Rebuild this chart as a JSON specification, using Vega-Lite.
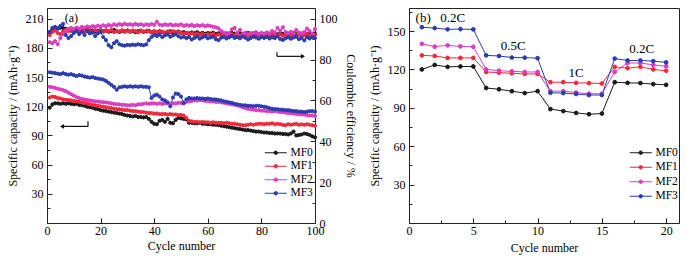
{
  "$schema": "https://vega.github.io/schema/vega-lite/v6.json",
  "padding": {"left": 5, "top": 5, "right": 5, "bottom": 5},
  "spacing": 94,
  "bounds": "flush",
  "config": {
    "font": "Liberation Serif",
    "view": {"stroke": "#222", "strokeWidth": 1},
    "axis": {"labelFont": "Liberation Serif", "titleFont": "Liberation Serif", "labelFontSize": 12, "titleFontSize": 12, "titleFontWeight": "normal", "labelColor": "#000", "titleColor": "#000", "domainColor": "#222", "tickColor": "#222", "grid": false, "labelFlush": false, "labelOverlap": false},
    "legend": {"labelFont": "Liberation Serif", "labelFontSize": 11.5, "labelColor": "#000"},
    "text": {"font": "Liberation Serif", "fontSize": 13}
  },
  "datasets": {
    "a": [
{"c":1,"s":"MF0","cap":118.5,"ce":93.5},{"c":2,"s":"MF0","cap":122,"ce":94.8},{"c":3,"s":"MF0","cap":123,"ce":95.8},{"c":4,"s":"MF0","cap":123,"ce":95.2},{"c":5,"s":"MF0","cap":122.5,"ce":95.6},{"c":6,"s":"MF0","cap":123,"ce":95.4},{"c":7,"s":"MF0","cap":122.5,"ce":95.0},{"c":8,"s":"MF0","cap":123,"ce":94.6},{"c":9,"s":"MF0","cap":122.5,"ce":94.2},{"c":10,"s":"MF0","cap":122,"ce":94.8},
{"c":11,"s":"MF0","cap":122.5,"ce":94.0},{"c":12,"s":"MF0","cap":121.5,"ce":94.5},{"c":13,"s":"MF0","cap":121,"ce":93.8},{"c":14,"s":"MF0","cap":120.5,"ce":94.2},{"c":15,"s":"MF0","cap":119.5,"ce":94.6},{"c":16,"s":"MF0","cap":119,"ce":93.9},{"c":17,"s":"MF0","cap":118.5,"ce":94.3},{"c":18,"s":"MF0","cap":117.5,"ce":93.7},{"c":19,"s":"MF0","cap":117,"ce":94.1},{"c":20,"s":"MF0","cap":116,"ce":94.4},
{"c":21,"s":"MF0","cap":115.5,"ce":93.8},{"c":22,"s":"MF0","cap":115,"ce":94.2},{"c":23,"s":"MF0","cap":114.5,"ce":93.6},{"c":24,"s":"MF0","cap":114,"ce":94.0},{"c":25,"s":"MF0","cap":113.5,"ce":94.5},{"c":26,"s":"MF0","cap":113,"ce":93.9},{"c":27,"s":"MF0","cap":112.5,"ce":93.5},{"c":28,"s":"MF0","cap":112,"ce":94.1},{"c":29,"s":"MF0","cap":111,"ce":93.8},{"c":30,"s":"MF0","cap":110.5,"ce":94.3},
{"c":31,"s":"MF0","cap":110,"ce":93.7},{"c":32,"s":"MF0","cap":109.5,"ce":94.0},{"c":33,"s":"MF0","cap":110,"ce":93.4},{"c":34,"s":"MF0","cap":109,"ce":93.9},{"c":35,"s":"MF0","cap":109,"ce":94.2},{"c":36,"s":"MF0","cap":108.5,"ce":93.6},{"c":37,"s":"MF0","cap":109,"ce":93.8},{"c":38,"s":"MF0","cap":107,"ce":94.1},{"c":39,"s":"MF0","cap":104,"ce":93.3},{"c":40,"s":"MF0","cap":102,"ce":93.7},
{"c":41,"s":"MF0","cap":101.5,"ce":93.2},{"c":42,"s":"MF0","cap":105,"ce":93.8},{"c":43,"s":"MF0","cap":106,"ce":93.5},{"c":44,"s":"MF0","cap":104,"ce":93.0},{"c":45,"s":"MF0","cap":107,"ce":93.6},{"c":46,"s":"MF0","cap":103,"ce":93.9},{"c":47,"s":"MF0","cap":102.5,"ce":93.1},{"c":48,"s":"MF0","cap":106,"ce":93.4},{"c":49,"s":"MF0","cap":108,"ce":93.7},{"c":50,"s":"MF0","cap":107.5,"ce":93.2},
{"c":51,"s":"MF0","cap":107,"ce":93.5},{"c":52,"s":"MF0","cap":106.5,"ce":93.0},{"c":53,"s":"MF0","cap":103,"ce":92.8},{"c":54,"s":"MF0","cap":103,"ce":93.3},{"c":55,"s":"MF0","cap":102.5,"ce":92.9},{"c":56,"s":"MF0","cap":102.5,"ce":93.4},{"c":57,"s":"MF0","cap":103,"ce":92.7},{"c":58,"s":"MF0","cap":102,"ce":93.1},{"c":59,"s":"MF0","cap":102,"ce":92.6},{"c":60,"s":"MF0","cap":101.5,"ce":93.0},
{"c":61,"s":"MF0","cap":101.5,"ce":92.8},{"c":62,"s":"MF0","cap":101,"ce":93.2},{"c":63,"s":"MF0","cap":101,"ce":92.5},{"c":64,"s":"MF0","cap":100.5,"ce":92.9},{"c":65,"s":"MF0","cap":100,"ce":93.1},{"c":66,"s":"MF0","cap":99.5,"ce":92.6},{"c":67,"s":"MF0","cap":99,"ce":92.8},{"c":68,"s":"MF0","cap":98.5,"ce":92.4},{"c":69,"s":"MF0","cap":98,"ce":93.0},{"c":70,"s":"MF0","cap":97.5,"ce":92.7},
{"c":71,"s":"MF0","cap":97,"ce":92.5},{"c":72,"s":"MF0","cap":96.5,"ce":92.9},{"c":73,"s":"MF0","cap":96,"ce":92.3},{"c":74,"s":"MF0","cap":95.5,"ce":92.7},{"c":75,"s":"MF0","cap":95.5,"ce":93.0},{"c":76,"s":"MF0","cap":95,"ce":92.4},{"c":77,"s":"MF0","cap":94.5,"ce":92.8},{"c":78,"s":"MF0","cap":94,"ce":92.6},{"c":79,"s":"MF0","cap":94,"ce":92.2},{"c":80,"s":"MF0","cap":93.5,"ce":92.7},
{"c":81,"s":"MF0","cap":93,"ce":92.5},{"c":82,"s":"MF0","cap":93,"ce":92.9},{"c":83,"s":"MF0","cap":92.5,"ce":92.3},{"c":84,"s":"MF0","cap":92.5,"ce":92.6},{"c":85,"s":"MF0","cap":92,"ce":93.0},{"c":86,"s":"MF0","cap":92,"ce":92.4},{"c":87,"s":"MF0","cap":92,"ce":92.8},{"c":88,"s":"MF0","cap":91.5,"ce":92.5},{"c":89,"s":"MF0","cap":91.5,"ce":92.9},{"c":90,"s":"MF0","cap":91,"ce":92.3},
{"c":91,"s":"MF0","cap":92,"ce":92.7},{"c":92,"s":"MF0","cap":94,"ce":93.1},{"c":93,"s":"MF0","cap":90,"ce":92.4},{"c":94,"s":"MF0","cap":90.5,"ce":92.8},{"c":95,"s":"MF0","cap":91,"ce":92.6},{"c":96,"s":"MF0","cap":92,"ce":93.0},{"c":97,"s":"MF0","cap":91.5,"ce":92.5},{"c":98,"s":"MF0","cap":90.5,"ce":92.9},{"c":99,"s":"MF0","cap":89,"ce":92.3},{"c":100,"s":"MF0","cap":88,"ce":92.7},
{"c":1,"s":"MF1","cap":129,"ce":92.0},{"c":2,"s":"MF1","cap":130,"ce":93.5},{"c":3,"s":"MF1","cap":129.5,"ce":94.2},{"c":4,"s":"MF1","cap":128.5,"ce":93.0},{"c":5,"s":"MF1","cap":128,"ce":92.5},{"c":6,"s":"MF1","cap":127,"ce":93.8},{"c":7,"s":"MF1","cap":126.5,"ce":94.5},{"c":8,"s":"MF1","cap":126.5,"ce":93.9},{"c":9,"s":"MF1","cap":126,"ce":94.3},{"c":10,"s":"MF1","cap":125.5,"ce":93.6},
{"c":11,"s":"MF1","cap":125,"ce":94.1},{"c":12,"s":"MF1","cap":124.5,"ce":93.7},{"c":13,"s":"MF1","cap":124,"ce":94.4},{"c":14,"s":"MF1","cap":123.5,"ce":93.8},{"c":15,"s":"MF1","cap":123,"ce":94.2},{"c":16,"s":"MF1","cap":122,"ce":93.5},{"c":17,"s":"MF1","cap":121.5,"ce":94.0},{"c":18,"s":"MF1","cap":121,"ce":94.3},{"c":19,"s":"MF1","cap":120.5,"ce":93.7},{"c":20,"s":"MF1","cap":120,"ce":94.1},
{"c":21,"s":"MF1","cap":119.5,"ce":93.6},{"c":22,"s":"MF1","cap":119,"ce":94.2},{"c":23,"s":"MF1","cap":118.5,"ce":93.9},{"c":24,"s":"MF1","cap":118,"ce":94.4},{"c":25,"s":"MF1","cap":117.5,"ce":93.5},{"c":26,"s":"MF1","cap":117,"ce":94.0},{"c":27,"s":"MF1","cap":117,"ce":93.8},{"c":28,"s":"MF1","cap":116.5,"ce":94.3},{"c":29,"s":"MF1","cap":116,"ce":93.6},{"c":30,"s":"MF1","cap":116,"ce":94.1},
{"c":31,"s":"MF1","cap":115.5,"ce":93.7},{"c":32,"s":"MF1","cap":115,"ce":94.2},{"c":33,"s":"MF1","cap":115,"ce":93.9},{"c":34,"s":"MF1","cap":114.5,"ce":93.4},{"c":35,"s":"MF1","cap":114,"ce":94.0},{"c":36,"s":"MF1","cap":114,"ce":93.6},{"c":37,"s":"MF1","cap":113.5,"ce":94.1},{"c":38,"s":"MF1","cap":113,"ce":93.8},{"c":39,"s":"MF1","cap":113,"ce":93.3},{"c":40,"s":"MF1","cap":112.5,"ce":93.9},
{"c":41,"s":"MF1","cap":112.5,"ce":93.5},{"c":42,"s":"MF1","cap":112,"ce":94.0},{"c":43,"s":"MF1","cap":112,"ce":93.6},{"c":44,"s":"MF1","cap":112,"ce":93.2},{"c":45,"s":"MF1","cap":111.5,"ce":93.8},{"c":46,"s":"MF1","cap":112,"ce":93.4},{"c":47,"s":"MF1","cap":111.5,"ce":93.9},{"c":48,"s":"MF1","cap":111.5,"ce":93.3},{"c":49,"s":"MF1","cap":111,"ce":93.7},{"c":50,"s":"MF1","cap":111,"ce":93.0},
{"c":51,"s":"MF1","cap":110.5,"ce":92.8},{"c":52,"s":"MF1","cap":108,"ce":93.2},{"c":53,"s":"MF1","cap":105,"ce":92.5},{"c":54,"s":"MF1","cap":104.5,"ce":92.9},{"c":55,"s":"MF1","cap":104,"ce":92.3},{"c":56,"s":"MF1","cap":104,"ce":92.7},{"c":57,"s":"MF1","cap":103.5,"ce":92.1},{"c":58,"s":"MF1","cap":104,"ce":92.6},{"c":59,"s":"MF1","cap":103.5,"ce":92.0},{"c":60,"s":"MF1","cap":103.5,"ce":92.4},
{"c":61,"s":"MF1","cap":103,"ce":92.2},{"c":62,"s":"MF1","cap":103.5,"ce":92.7},{"c":63,"s":"MF1","cap":103,"ce":91.8},{"c":64,"s":"MF1","cap":103,"ce":92.3},{"c":65,"s":"MF1","cap":103,"ce":91.9},{"c":66,"s":"MF1","cap":102.5,"ce":92.5},{"c":67,"s":"MF1","cap":103,"ce":91.7},{"c":68,"s":"MF1","cap":102.5,"ce":92.1},{"c":69,"s":"MF1","cap":102,"ce":92.4},{"c":70,"s":"MF1","cap":102,"ce":91.8},
{"c":71,"s":"MF1","cap":101.5,"ce":92.2},{"c":72,"s":"MF1","cap":101,"ce":91.6},{"c":73,"s":"MF1","cap":100.5,"ce":92.0},{"c":74,"s":"MF1","cap":100.5,"ce":92.4},{"c":75,"s":"MF1","cap":101,"ce":91.7},{"c":76,"s":"MF1","cap":101.5,"ce":92.1},{"c":77,"s":"MF1","cap":101,"ce":91.5},{"c":78,"s":"MF1","cap":101.5,"ce":91.9},{"c":79,"s":"MF1","cap":102,"ce":92.3},{"c":80,"s":"MF1","cap":102,"ce":91.6},
{"c":81,"s":"MF1","cap":101.5,"ce":92.0},{"c":82,"s":"MF1","cap":102,"ce":92.4},{"c":83,"s":"MF1","cap":102,"ce":91.8},{"c":84,"s":"MF1","cap":102.5,"ce":92.2},{"c":85,"s":"MF1","cap":101.5,"ce":91.5},{"c":86,"s":"MF1","cap":102,"ce":91.9},{"c":87,"s":"MF1","cap":101.5,"ce":92.3},{"c":88,"s":"MF1","cap":101,"ce":91.7},{"c":89,"s":"MF1","cap":100.5,"ce":92.1},{"c":90,"s":"MF1","cap":101.5,"ce":91.6},
{"c":91,"s":"MF1","cap":101,"ce":92.0},{"c":92,"s":"MF1","cap":101.5,"ce":92.4},{"c":93,"s":"MF1","cap":102,"ce":91.8},{"c":94,"s":"MF1","cap":101,"ce":92.2},{"c":95,"s":"MF1","cap":101.5,"ce":91.6},{"c":96,"s":"MF1","cap":101,"ce":92.0},{"c":97,"s":"MF1","cap":101.5,"ce":92.5},{"c":98,"s":"MF1","cap":101,"ce":91.7},{"c":99,"s":"MF1","cap":100.5,"ce":91.9},{"c":100,"s":"MF1","cap":100,"ce":92.1},
{"c":1,"s":"MF2","cap":140,"ce":88.5},{"c":2,"s":"MF2","cap":139.5,"ce":88.0},{"c":3,"s":"MF2","cap":139,"ce":89.0},{"c":4,"s":"MF2","cap":138,"ce":87.5},{"c":5,"s":"MF2","cap":137.5,"ce":90.5},{"c":6,"s":"MF2","cap":136.5,"ce":92.5},{"c":7,"s":"MF2","cap":135.5,"ce":94.0},{"c":8,"s":"MF2","cap":134,"ce":95.0},{"c":9,"s":"MF2","cap":132.5,"ce":95.5},{"c":10,"s":"MF2","cap":131,"ce":94.8},
{"c":11,"s":"MF2","cap":129.5,"ce":95.6},{"c":12,"s":"MF2","cap":128.5,"ce":95.2},{"c":13,"s":"MF2","cap":127.5,"ce":96.0},{"c":14,"s":"MF2","cap":127,"ce":95.7},{"c":15,"s":"MF2","cap":126.5,"ce":96.2},{"c":16,"s":"MF2","cap":126,"ce":95.8},{"c":17,"s":"MF2","cap":125.5,"ce":96.4},{"c":18,"s":"MF2","cap":125,"ce":96.0},{"c":19,"s":"MF2","cap":125,"ce":96.6},{"c":20,"s":"MF2","cap":124.5,"ce":96.2},
{"c":21,"s":"MF2","cap":124,"ce":96.8},{"c":22,"s":"MF2","cap":124,"ce":96.3},{"c":23,"s":"MF2","cap":123.5,"ce":97.0},{"c":24,"s":"MF2","cap":123,"ce":96.5},{"c":25,"s":"MF2","cap":122.5,"ce":97.2},{"c":26,"s":"MF2","cap":122,"ce":96.8},{"c":27,"s":"MF2","cap":122,"ce":97.4},{"c":28,"s":"MF2","cap":121.5,"ce":97.0},{"c":29,"s":"MF2","cap":121.5,"ce":97.5},{"c":30,"s":"MF2","cap":121,"ce":97.1},
{"c":31,"s":"MF2","cap":121,"ce":97.3},{"c":32,"s":"MF2","cap":121.5,"ce":96.9},{"c":33,"s":"MF2","cap":121,"ce":97.5},{"c":34,"s":"MF2","cap":122,"ce":97.0},{"c":35,"s":"MF2","cap":122,"ce":97.3},{"c":36,"s":"MF2","cap":122.5,"ce":96.8},{"c":37,"s":"MF2","cap":123,"ce":97.2},{"c":38,"s":"MF2","cap":122.5,"ce":96.9},{"c":39,"s":"MF2","cap":123,"ce":97.4},{"c":40,"s":"MF2","cap":123,"ce":97.0},
{"c":41,"s":"MF2","cap":122.5,"ce":98.5},{"c":42,"s":"MF2","cap":123,"ce":97.1},{"c":43,"s":"MF2","cap":122.5,"ce":96.8},{"c":44,"s":"MF2","cap":123,"ce":97.2},{"c":45,"s":"MF2","cap":123,"ce":96.9},{"c":46,"s":"MF2","cap":122.5,"ce":97.3},{"c":47,"s":"MF2","cap":123,"ce":96.7},{"c":48,"s":"MF2","cap":123,"ce":97.0},{"c":49,"s":"MF2","cap":123.5,"ce":96.8},{"c":50,"s":"MF2","cap":123.5,"ce":97.2},
{"c":51,"s":"MF2","cap":124,"ce":96.5},{"c":52,"s":"MF2","cap":124.5,"ce":96.9},{"c":53,"s":"MF2","cap":125,"ce":96.6},{"c":54,"s":"MF2","cap":125.5,"ce":97.0},{"c":55,"s":"MF2","cap":126,"ce":96.4},{"c":56,"s":"MF2","cap":126,"ce":96.8},{"c":57,"s":"MF2","cap":126.5,"ce":96.5},{"c":58,"s":"MF2","cap":126,"ce":96.9},{"c":59,"s":"MF2","cap":125.5,"ce":96.3},{"c":60,"s":"MF2","cap":125.5,"ce":96.7},
{"c":61,"s":"MF2","cap":125,"ce":96.4},{"c":62,"s":"MF2","cap":125,"ce":96.1},{"c":63,"s":"MF2","cap":124.5,"ce":95.8},{"c":64,"s":"MF2","cap":124.5,"ce":95.3},{"c":65,"s":"MF2","cap":124,"ce":94.0},{"c":66,"s":"MF2","cap":123.5,"ce":93.2},{"c":67,"s":"MF2","cap":123,"ce":92.5},{"c":68,"s":"MF2","cap":122.5,"ce":93.0},{"c":69,"s":"MF2","cap":122,"ce":94.8},{"c":70,"s":"MF2","cap":121.5,"ce":95.5},
{"c":71,"s":"MF2","cap":121,"ce":93.0},{"c":72,"s":"MF2","cap":120,"ce":94.5},{"c":73,"s":"MF2","cap":119,"ce":92.5},{"c":74,"s":"MF2","cap":118,"ce":93.2},{"c":75,"s":"MF2","cap":117.5,"ce":92.4},{"c":76,"s":"MF2","cap":117,"ce":93.0},{"c":77,"s":"MF2","cap":116.5,"ce":92.8},{"c":78,"s":"MF2","cap":116,"ce":93.4},{"c":79,"s":"MF2","cap":116,"ce":92.6},{"c":80,"s":"MF2","cap":115.5,"ce":93.1},
{"c":81,"s":"MF2","cap":115.5,"ce":92.7},{"c":82,"s":"MF2","cap":115,"ce":93.3},{"c":83,"s":"MF2","cap":115,"ce":92.9},{"c":84,"s":"MF2","cap":114.5,"ce":94.0},{"c":85,"s":"MF2","cap":115,"ce":93.2},{"c":86,"s":"MF2","cap":114.5,"ce":95.5},{"c":87,"s":"MF2","cap":114,"ce":94.2},{"c":88,"s":"MF2","cap":114,"ce":95.8},{"c":89,"s":"MF2","cap":113.5,"ce":93.5},{"c":90,"s":"MF2","cap":113,"ce":92.9},
{"c":91,"s":"MF2","cap":113,"ce":93.6},{"c":92,"s":"MF2","cap":112.5,"ce":93.0},{"c":93,"s":"MF2","cap":112,"ce":94.5},{"c":94,"s":"MF2","cap":112,"ce":93.2},{"c":95,"s":"MF2","cap":111.5,"ce":92.8},{"c":96,"s":"MF2","cap":111.5,"ce":93.5},{"c":97,"s":"MF2","cap":111,"ce":95.2},{"c":98,"s":"MF2","cap":110.5,"ce":94.0},{"c":99,"s":"MF2","cap":110.5,"ce":92.6},{"c":100,"s":"MF2","cap":110,"ce":95.0},
{"c":1,"s":"MF3","cap":155,"ce":93.5},{"c":2,"s":"MF3","cap":154.5,"ce":95.5},{"c":3,"s":"MF3","cap":154,"ce":96.0},{"c":4,"s":"MF3","cap":153.5,"ce":95.2},{"c":5,"s":"MF3","cap":153,"ce":96.5},{"c":6,"s":"MF3","cap":154,"ce":97.5},{"c":7,"s":"MF3","cap":153,"ce":92.0},{"c":8,"s":"MF3","cap":152.5,"ce":90.5},{"c":9,"s":"MF3","cap":153,"ce":91.5},{"c":10,"s":"MF3","cap":152,"ce":93.0},
{"c":11,"s":"MF3","cap":151,"ce":94.0},{"c":12,"s":"MF3","cap":152,"ce":92.5},{"c":13,"s":"MF3","cap":151.5,"ce":93.5},{"c":14,"s":"MF3","cap":150.5,"ce":92.0},{"c":15,"s":"MF3","cap":150,"ce":93.8},{"c":16,"s":"MF3","cap":149.5,"ce":92.8},{"c":17,"s":"MF3","cap":150,"ce":93.2},{"c":18,"s":"MF3","cap":149,"ce":91.5},{"c":19,"s":"MF3","cap":148.5,"ce":92.8},{"c":20,"s":"MF3","cap":148,"ce":93.5},
{"c":21,"s":"MF3","cap":147.5,"ce":91.0},{"c":22,"s":"MF3","cap":146,"ce":89.5},{"c":23,"s":"MF3","cap":144,"ce":87.0},{"c":24,"s":"MF3","cap":142,"ce":86.0},{"c":25,"s":"MF3","cap":140,"ce":88.0},{"c":26,"s":"MF3","cap":137,"ce":89.0},{"c":27,"s":"MF3","cap":139.5,"ce":87.5},{"c":28,"s":"MF3","cap":140,"ce":87.0},{"c":29,"s":"MF3","cap":140.5,"ce":86.8},{"c":30,"s":"MF3","cap":140,"ce":87.2},
{"c":31,"s":"MF3","cap":140.5,"ce":87.0},{"c":32,"s":"MF3","cap":140,"ce":87.3},{"c":33,"s":"MF3","cap":140.5,"ce":87.1},{"c":34,"s":"MF3","cap":140,"ce":87.5},{"c":35,"s":"MF3","cap":140.5,"ce":87.2},{"c":36,"s":"MF3","cap":140,"ce":87.0},{"c":37,"s":"MF3","cap":140,"ce":87.4},{"c":38,"s":"MF3","cap":139.5,"ce":89.5},{"c":39,"s":"MF3","cap":128.5,"ce":91.0},{"c":40,"s":"MF3","cap":131,"ce":92.0},
{"c":41,"s":"MF3","cap":132,"ce":91.5},{"c":42,"s":"MF3","cap":130,"ce":92.2},{"c":43,"s":"MF3","cap":127,"ce":91.0},{"c":44,"s":"MF3","cap":126,"ce":91.8},{"c":45,"s":"MF3","cap":124,"ce":92.3},{"c":46,"s":"MF3","cap":120,"ce":91.2},{"c":47,"s":"MF3","cap":129,"ce":91.8},{"c":48,"s":"MF3","cap":133,"ce":92.4},{"c":49,"s":"MF3","cap":132.5,"ce":91.5},{"c":50,"s":"MF3","cap":130,"ce":90.8},
{"c":51,"s":"MF3","cap":123,"ce":91.2},{"c":52,"s":"MF3","cap":127,"ce":90.5},{"c":53,"s":"MF3","cap":128.5,"ce":91.0},{"c":54,"s":"MF3","cap":128,"ce":89.8},{"c":55,"s":"MF3","cap":128,"ce":90.6},{"c":56,"s":"MF3","cap":128.5,"ce":91.3},{"c":57,"s":"MF3","cap":128,"ce":90.2},{"c":58,"s":"MF3","cap":128,"ce":90.9},{"c":59,"s":"MF3","cap":127.5,"ce":91.4},{"c":60,"s":"MF3","cap":128,"ce":90.4},
{"c":61,"s":"MF3","cap":127.5,"ce":90.8},{"c":62,"s":"MF3","cap":127,"ce":91.2},{"c":63,"s":"MF3","cap":127,"ce":90.0},{"c":64,"s":"MF3","cap":126.5,"ce":89.5},{"c":65,"s":"MF3","cap":126,"ce":90.7},{"c":66,"s":"MF3","cap":125,"ce":91.1},{"c":67,"s":"MF3","cap":124.5,"ce":90.3},{"c":68,"s":"MF3","cap":124,"ce":90.9},{"c":69,"s":"MF3","cap":123.5,"ce":91.5},{"c":70,"s":"MF3","cap":122.5,"ce":90.6},
{"c":71,"s":"MF3","cap":122,"ce":91.0},{"c":72,"s":"MF3","cap":121.5,"ce":90.4},{"c":73,"s":"MF3","cap":121,"ce":91.3},{"c":74,"s":"MF3","cap":121,"ce":90.7},{"c":75,"s":"MF3","cap":120.5,"ce":89.8},{"c":76,"s":"MF3","cap":120.5,"ce":90.5},{"c":77,"s":"MF3","cap":120,"ce":91.2},{"c":78,"s":"MF3","cap":120.5,"ce":90.8},{"c":79,"s":"MF3","cap":120.5,"ce":90.2},{"c":80,"s":"MF3","cap":120,"ce":91.0},
{"c":81,"s":"MF3","cap":119.5,"ce":90.6},{"c":82,"s":"MF3","cap":119,"ce":91.1},{"c":83,"s":"MF3","cap":118,"ce":90.3},{"c":84,"s":"MF3","cap":117.5,"ce":90.9},{"c":85,"s":"MF3","cap":117,"ce":90.5},{"c":86,"s":"MF3","cap":117,"ce":91.3},{"c":87,"s":"MF3","cap":116.5,"ce":90.1},{"c":88,"s":"MF3","cap":116.5,"ce":89.6},{"c":89,"s":"MF3","cap":116,"ce":90.4},{"c":90,"s":"MF3","cap":116,"ce":90.9},
{"c":91,"s":"MF3","cap":115.5,"ce":90.2},{"c":92,"s":"MF3","cap":115,"ce":90.8},{"c":93,"s":"MF3","cap":115,"ce":91.2},{"c":94,"s":"MF3","cap":114.5,"ce":90.0},{"c":95,"s":"MF3","cap":114.5,"ce":90.6},{"c":96,"s":"MF3","cap":114,"ce":89.4},{"c":97,"s":"MF3","cap":114.5,"ce":90.9},{"c":98,"s":"MF3","cap":115,"ce":90.3},{"c":99,"s":"MF3","cap":115,"ce":91.0},{"c":100,"s":"MF3","cap":114.5,"ce":90.5}
    ],
    "b": [
{"c":1,"s":"MF0","v":120},{"c":2,"s":"MF0","v":123.5},{"c":3,"s":"MF0","v":122},{"c":4,"s":"MF0","v":122.3},{"c":5,"s":"MF0","v":122.3},{"c":6,"s":"MF0","v":105.5},{"c":7,"s":"MF0","v":104.5},{"c":8,"s":"MF0","v":103},{"c":9,"s":"MF0","v":101.5},{"c":10,"s":"MF0","v":103},{"c":11,"s":"MF0","v":89},{"c":12,"s":"MF0","v":87.5},{"c":13,"s":"MF0","v":86},{"c":14,"s":"MF0","v":85},{"c":15,"s":"MF0","v":85.5},{"c":16,"s":"MF0","v":110},{"c":17,"s":"MF0","v":109.5},{"c":18,"s":"MF0","v":109.3},{"c":19,"s":"MF0","v":108.5},{"c":20,"s":"MF0","v":108},
{"c":1,"s":"MF1","v":131},{"c":2,"s":"MF1","v":130.5},{"c":3,"s":"MF1","v":129},{"c":4,"s":"MF1","v":129},{"c":5,"s":"MF1","v":129},{"c":6,"s":"MF1","v":118},{"c":7,"s":"MF1","v":117.5},{"c":8,"s":"MF1","v":117},{"c":9,"s":"MF1","v":116.5},{"c":10,"s":"MF1","v":116.5},{"c":11,"s":"MF1","v":110},{"c":12,"s":"MF1","v":110},{"c":13,"s":"MF1","v":109.5},{"c":14,"s":"MF1","v":109.3},{"c":15,"s":"MF1","v":109},{"c":16,"s":"MF1","v":122},{"c":17,"s":"MF1","v":121},{"c":18,"s":"MF1","v":122},{"c":19,"s":"MF1","v":120},{"c":20,"s":"MF1","v":119},
{"c":1,"s":"MF2","v":140},{"c":2,"s":"MF2","v":137.8},{"c":3,"s":"MF2","v":138.8},{"c":4,"s":"MF2","v":138},{"c":5,"s":"MF2","v":137.7},{"c":6,"s":"MF2","v":120},{"c":7,"s":"MF2","v":119},{"c":8,"s":"MF2","v":118.5},{"c":9,"s":"MF2","v":118},{"c":10,"s":"MF2","v":118},{"c":11,"s":"MF2","v":103},{"c":12,"s":"MF2","v":103},{"c":13,"s":"MF2","v":102},{"c":14,"s":"MF2","v":101},{"c":15,"s":"MF2","v":101},{"c":16,"s":"MF2","v":118},{"c":17,"s":"MF2","v":125},{"c":18,"s":"MF2","v":125},{"c":19,"s":"MF2","v":123.5},{"c":20,"s":"MF2","v":122.5},
{"c":1,"s":"MF3","v":153},{"c":2,"s":"MF3","v":152.3},{"c":3,"s":"MF3","v":151.3},{"c":4,"s":"MF3","v":151.5},{"c":5,"s":"MF3","v":151.3},{"c":6,"s":"MF3","v":131},{"c":7,"s":"MF3","v":130.5},{"c":8,"s":"MF3","v":129.3},{"c":9,"s":"MF3","v":129.2},{"c":10,"s":"MF3","v":128.8},{"c":11,"s":"MF3","v":101.8},{"c":12,"s":"MF3","v":101.5},{"c":13,"s":"MF3","v":100.8},{"c":14,"s":"MF3","v":100},{"c":15,"s":"MF3","v":100},{"c":16,"s":"MF3","v":128.5},{"c":17,"s":"MF3","v":127},{"c":18,"s":"MF3","v":127},{"c":19,"s":"MF3","v":126.5},{"c":20,"s":"MF3","v":125.5}
    ]
  },
  "resolve": {"scale": {"color": "independent", "fill": "independent"}, "legend": {"color": "independent", "fill": "independent"}},
  "hconcat": [
    {
      "width": 268, "height": 215,
      "layer": [
        {
          "encoding": {
            "x": {"field": "c", "type": "quantitative", "scale": {"domain": [0, 100], "nice": false}, "axis": {"title": "Cycle number", "values": [0,10,20,30,40,50,60,70,80,90,100], "labelExpr": "datum.value % 20 == 0 ? datum.label : ''", "tickSize": {"condition": {"test": "datum.value % 20 == 0", "value": -5}, "value": -3}, "labelPadding": 7, "titlePadding": 4}},
            "y": {"field": "cap", "type": "quantitative", "scale": {"domain": [0, 221], "nice": false}, "axis": {"title": "Specific capacity / (mAh·g⁻¹)", "values": [15,30,45,60,75,90,105,120,135,150,165,180,195,210], "labelExpr": "datum.value % 30 == 0 ? datum.label : ''", "tickSize": {"condition": {"test": "datum.value % 30 == 0", "value": -5}, "value": -3}, "labelPadding": 9, "titlePadding": 6}}
          },
          "layer": [
            {"data": {"name": "a"}, "mark": {"type": "line", "strokeWidth": 1},
             "encoding": {"color": {"field": "s", "type": "nominal", "scale": {"domain": ["MF0","MF1","MF2","MF3"], "range": ["#1a1a1a","#f2283a","#dc3cbe","#2a3cae"]}, "legend": {"orient": "none", "legendX": 223, "legendY": 139, "title": null, "symbolType": "M-2.2,0H2.2M-0.35,0A0.35,0.35,0,1,1,0.35,0A0.35,0.35,0,1,1,-0.35,0", "symbolSize": 100, "symbolStrokeWidth": 1, "labelOffset": 9, "rowPadding": 0.5}}}},
            {"data": {"name": "a"}, "mark": {"type": "point", "filled": false, "shape": "circle", "size": 10, "strokeWidth": 1, "opacity": 1},
             "encoding": {"color": {"field": "s", "type": "nominal", "scale": {"domain": ["MF0","MF1","MF2","MF3"], "range": ["#1a1a1a","#f2283a","#dc3cbe","#2a3cae"]}, "legend": {"orient": "none", "legendX": 223, "legendY": 139, "title": null, "symbolType": "M-2.2,0H2.2M-0.35,0A0.35,0.35,0,1,1,0.35,0A0.35,0.35,0,1,1,-0.35,0", "symbolSize": 100, "symbolStrokeWidth": 1, "labelOffset": 9, "rowPadding": 0.5}},
                          "fill": {"field": "s", "type": "nominal", "scale": {"domain": ["MF0","MF1","MF2","MF3"], "range": ["#1a1a1a","#f2283a","#dc3cbe","#2a3cae"]}, "legend": {"orient": "none", "legendX": 223, "legendY": 139, "title": null, "symbolType": "M-2.2,0H2.2M-0.35,0A0.35,0.35,0,1,1,0.35,0A0.35,0.35,0,1,1,-0.35,0", "symbolSize": 100, "symbolStrokeWidth": 1, "labelOffset": 9, "rowPadding": 0.5}}}},
            {"data": {"values": [{"c": 5.2, "cap": 99.3, "c2": 15.3, "cap2": 99.3}, {"c": 15.3, "cap": 99.3, "c2": 15.3, "cap2": 104.7}, {"c": 85.8, "cap": 171.3, "c2": 95.9, "cap2": 171.3}, {"c": 85.8, "cap": 171.3, "c2": 85.8, "cap2": 175.4}]},
             "mark": {"type": "rule", "color": "#111", "strokeWidth": 1.2},
             "encoding": {"x2": {"field": "c2"}, "y2": {"field": "cap2"}}},
            {"data": {"values": [{"c": 5.6, "cap": 99.3, "dir": "left"}, {"c": 95.5, "cap": 171.3, "dir": "right"}]},
             "mark": {"type": "point", "filled": true, "color": "#111", "size": 22, "opacity": 1},
             "encoding": {"shape": {"field": "dir", "type": "nominal", "scale": {"domain": ["left", "right"], "range": ["triangle-left", "triangle-right"]}, "legend": null}}},
            {"data": {"values": [{"c": 9.1, "cap": 210.7, "t": "(a)"}]},
             "mark": {"type": "text", "fontSize": 12, "color": "#000"},
             "encoding": {"text": {"field": "t"}}}
          ]
        },
        {
          "data": {"name": "a"},
          "encoding": {
            "x": {"field": "c", "type": "quantitative", "scale": {"domain": [0, 100], "nice": false}},
            "y": {"field": "ce", "type": "quantitative", "scale": {"domain": [0, 105.24], "nice": false}, "axis": {"orient": "right", "title": "Coulombic efficiency / %", "values": [0,10,20,30,40,50,60,70,80,90,100], "labelExpr": "datum.value % 20 == 0 ? datum.label : ''", "tickSize": {"condition": {"test": "datum.value % 20 == 0", "value": -5}, "value": -3}, "labelPadding": 9, "titlePadding": 6}}
          },
          "layer": [
            {"mark": {"type": "line", "strokeWidth": 1},
             "encoding": {"color": {"field": "s", "type": "nominal", "scale": {"domain": ["MF0","MF1","MF2","MF3"], "range": ["#1a1a1a","#f2283a","#dc3cbe","#2a3cae"]}, "legend": {"orient": "none", "legendX": 223, "legendY": 139, "title": null, "symbolType": "M-2.2,0H2.2M-0.35,0A0.35,0.35,0,1,1,0.35,0A0.35,0.35,0,1,1,-0.35,0", "symbolSize": 100, "symbolStrokeWidth": 1, "labelOffset": 9, "rowPadding": 0.5}}}},
            {"mark": {"type": "point", "filled": false, "shape": "circle", "size": 10, "strokeWidth": 1, "opacity": 1},
             "encoding": {"color": {"field": "s", "type": "nominal", "scale": {"domain": ["MF0","MF1","MF2","MF3"], "range": ["#1a1a1a","#f2283a","#dc3cbe","#2a3cae"]}, "legend": {"orient": "none", "legendX": 223, "legendY": 139, "title": null, "symbolType": "M-2.2,0H2.2M-0.35,0A0.35,0.35,0,1,1,0.35,0A0.35,0.35,0,1,1,-0.35,0", "symbolSize": 100, "symbolStrokeWidth": 1, "labelOffset": 9, "rowPadding": 0.5}},
                          "fill": {"field": "s", "type": "nominal", "scale": {"domain": ["MF0","MF1","MF2","MF3"], "range": ["#1a1a1a","#f2283a","#dc3cbe","#2a3cae"]}, "legend": {"orient": "none", "legendX": 223, "legendY": 139, "title": null, "symbolType": "M-2.2,0H2.2M-0.35,0A0.35,0.35,0,1,1,0.35,0A0.35,0.35,0,1,1,-0.35,0", "symbolSize": 100, "symbolStrokeWidth": 1, "labelOffset": 9, "rowPadding": 0.5}}}}
          ]
        }
      ],
      "resolve": {"scale": {"y": "independent"}}
    },
    {
      "width": 270, "height": 215,
      "encoding": {
        "x": {"field": "c", "type": "quantitative", "scale": {"domain": [0, 21], "nice": false}, "axis": {"title": "Cycle number", "values": [0,2.5,5,7.5,10,12.5,15,17.5,20], "labelExpr": "datum.value % 5 == 0 ? datum.label : ''", "tickSize": {"condition": {"test": "datum.value % 5 == 0", "value": -5}, "value": -3}, "labelPadding": 7, "titlePadding": 4}},
        "y": {"field": "v", "type": "quantitative", "scale": {"domain": [0, 168], "nice": false}, "axis": {"title": "Specific capacity / (mAh·g⁻¹)", "values": [15,30,45,60,75,90,105,120,135,150,165], "labelExpr": "datum.value % 30 == 0 ? datum.label : ''", "tickSize": {"condition": {"test": "datum.value % 30 == 0", "value": -5}, "value": -3}, "labelPadding": 9, "titlePadding": 6}}
      },
      "layer": [
        {"data": {"name": "b"}, "mark": {"type": "line", "strokeWidth": 1},
         "encoding": {"color": {"field": "s", "type": "nominal", "scale": {"domain": ["MF0","MF1","MF2","MF3"], "range": ["#1a1a1a","#f2283a","#dc3cbe","#2a3cae"]}, "legend": {"orient": "none", "legendX": 226, "legendY": 139, "title": null, "symbolType": "M-2.2,0H2.2M-0.35,0A0.35,0.35,0,1,1,0.35,0A0.35,0.35,0,1,1,-0.35,0", "symbolSize": 100, "symbolStrokeWidth": 1, "labelOffset": 9, "rowPadding": 1.5}}}},
        {"data": {"name": "b"}, "mark": {"type": "point", "filled": false, "shape": "circle", "size": 14, "strokeWidth": 1, "opacity": 1},
         "encoding": {"color": {"field": "s", "type": "nominal", "scale": {"domain": ["MF0","MF1","MF2","MF3"], "range": ["#1a1a1a","#f2283a","#dc3cbe","#2a3cae"]}, "legend": {"orient": "none", "legendX": 226, "legendY": 139, "title": null, "symbolType": "M-2.2,0H2.2M-0.35,0A0.35,0.35,0,1,1,0.35,0A0.35,0.35,0,1,1,-0.35,0", "symbolSize": 100, "symbolStrokeWidth": 1, "labelOffset": 9, "rowPadding": 1.5}},
                      "fill": {"field": "s", "type": "nominal", "scale": {"domain": ["MF0","MF1","MF2","MF3"], "range": ["#1a1a1a","#f2283a","#dc3cbe","#2a3cae"]}, "legend": {"orient": "none", "legendX": 226, "legendY": 139, "title": null, "symbolType": "M-2.2,0H2.2M-0.35,0A0.35,0.35,0,1,1,0.35,0A0.35,0.35,0,1,1,-0.35,0", "symbolSize": 100, "symbolStrokeWidth": 1, "labelOffset": 9, "rowPadding": 1.5}}}},
        {"data": {"values": [{"c": 1.1, "v": 160, "t": "(b)"}, {"c": 3.4, "v": 160, "t": "0.2C"}, {"c": 8.1, "v": 138.5, "t": "0.5C"}, {"c": 13.0, "v": 117, "t": "1C"}, {"c": 18.1, "v": 136, "t": "0.2C"}]},
         "mark": {"type": "text", "fontSize": 13, "color": "#000"},
         "encoding": {"text": {"field": "t"}}}
      ]
    }
  ]
}
